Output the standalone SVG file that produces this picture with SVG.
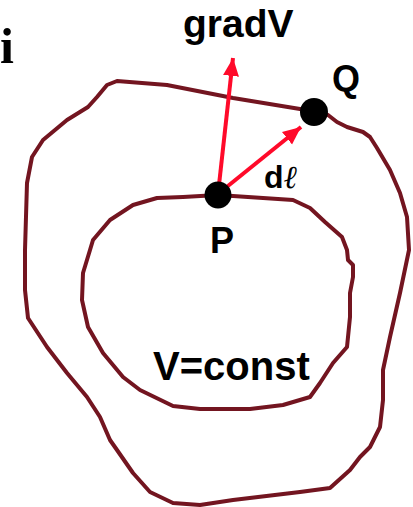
<svg xmlns="http://www.w3.org/2000/svg" width="413" height="507" viewBox="0 0 413 507">
<style>
.curve{fill:none;stroke:#731520;stroke-width:4;stroke-linejoin:round;stroke-linecap:round}
.arrow{fill:none;stroke:#ff0a2a;stroke-width:4}
.dot{fill:#000}
.lbl{font-family:"Liberation Sans",Arial,sans-serif;font-weight:bold;fill:#000}
</style>
<defs>
<marker id="ah" markerUnits="userSpaceOnUse" markerWidth="20" markerHeight="20" viewBox="0 0 20 20" refX="18" refY="10" orient="auto">
<path d="M0,2 L18,10 L0,18 Z" fill="#ff0a2a"/>
</marker>
</defs>
<rect width="413" height="507" fill="#fff"/>
<g id="outer-equipotential">
<path class="curve" d="M314,112 L328,115 L337,122 L347,127 L363,132 L370,137 L377,148 L390,170 L400,193 L407,217 L409,250 L400,293 L390,337 L383,370 L383,400 L380,427 L370,447 L360,457 L350,470 L330,488 L300,492 L233,500 L200,505 L173,503 L150,492 L133,473 L117,450 L110,440 L100,417 L87,397 L67,373 L47,347 L28,318 L25,290 L25,250 L27,183 L32,157 L43,140 L67,120 L88,107 L97,97 L107,85 L117,81 L167,85 L233,98 L300,109 Z"/>
</g>
<g id="inner-equipotential">
<path class="curve" d="M218,195 L293,200 L310,208 L325,222 L342,237 L347,250 L348,260 L353,265 L353,277 L350,293 L350,317 L347,347 L333,363 L320,383 L310,397 L283,405 L250,409 L200,409 L173,406 L140,390 L123,377 L103,353 L88,327 L82,300 L83,273 L90,250 L93,240 L110,220 L133,205 L157,198 L183,197 Z"/>
</g>
<g id="connectors">
<line class="arrow" x1="218" y1="194" x2="233" y2="58" marker-end="url(#ah)"/>
<line class="arrow" x1="218" y1="194" x2="301" y2="127" marker-end="url(#ah)"/>
</g>
<g id="node-P">
<circle class="dot" cx="218" cy="195" r="13.5"/>
<text class="lbl" x="210" y="253" font-size="36">P</text>
</g>
<g id="node-Q">
<circle class="dot" cx="314" cy="112" r="14"/>
<text class="lbl" x="332" y="91" font-size="36">Q</text>
</g>
<g id="label-gradV">
<text class="lbl" x="183" y="37" font-size="39">gradV</text>
</g>
<g id="label-dl">
<text class="lbl" x="264" y="188" font-size="32">d<tspan font-weight="normal" font-family="'DejaVu Serif',serif" font-style="italic">ℓ</tspan></text>
</g>
<g id="label-Vconst">
<text class="lbl" x="153" y="380" font-size="40">V=const</text>
</g>
<g id="label-i">
<text x="0" y="63" font-size="50" font-family="'Liberation Serif','Times New Roman',serif" font-weight="bold" fill="#000">i</text>
</g>
</svg>
